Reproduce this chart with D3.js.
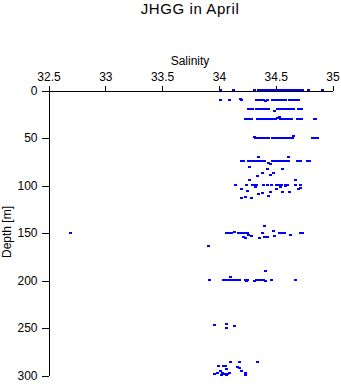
<!DOCTYPE html>
<html>
<head>
<meta charset="utf-8">
<script src="https://cdn.jsdelivr.net/npm/d3@7"></script>
<style>
  html, body { margin: 0; padding: 0; background: #fff; }
  svg { display: block; font-family: "Liberation Sans", Arial, sans-serif; }
</style>
</head>
<body>
<svg id="chart" width="341" height="384"></svg>
<script>
// Salinity / depth observations, [salinity, depth in m]
const surface = [
  [34.01,0],[34.13,0],[34.31,0],[34.35,0],[34.37,0],[34.39,0],[34.41,0],[34.43,0],[34.45,0],[34.48,0],
  [34.51,0],[34.53,0],[34.55,0],[34.57,0],[34.59,0],[34.61,0],[34.63,0],[34.65,0],[34.67,0],[34.70,0],
  [34.72,0],[34.74,0],[34.79,0],[34.91,0]
];
const upper = [
  [34.01,10],[34.09,10],[34.19,9],[34.20,11],[34.33,10],[34.35,10],[34.37,10],[34.39,10],[34.41,11.5],[34.43,10],
  [34.47,10],[34.49,10],[34.51,10],[34.53,10],[34.55,10],[34.57,10],[34.59,10],[34.62,10],[34.64,10],[34.66,10],[34.68,10],[34.70,10],
  [34.26,20],[34.28,20],[34.30,20],[34.33,20],[34.35,20],[34.37,20],[34.39,20],[34.41,20],[34.44,20],[34.49,22],
  [34.52,20],[34.54,20],[34.56,20],[34.58,20],[34.60,20],[34.62,20],[34.64,20],[34.66,20],[34.70,20],[34.73,20],
  [34.23,30],[34.25,31],[34.26,30],[34.29,30],[34.34,30],[34.36,30],[34.38,30],[34.40,30],[34.42,30],[34.44,30],
  [34.46,30],[34.48,30],[34.50,30],[34.52,29],[34.53,28.5],[34.54,30],[34.56,30],[34.58,30],[34.60,30],[34.62,30],
  [34.64,30],[34.69,30],[34.71,30],[34.73,30],[34.84,30],[34.85,31],
  [34.31,49],[34.32,50],[34.34,50],[34.36,50],[34.38,50],[34.40,50],[34.42,50],[34.44,50],[34.47,50],[34.49,50],
  [34.51,50],[34.53,50],[34.55,50],[34.57,50],[34.59,50],[34.61,50],[34.63,50],[34.65,50],[34.66,48],
  [34.82,50],[34.85,50],[34.87,50]
];
const middle = [
  [34.20,75],[34.22,75],[34.26,75],[34.28,75],[34.30,75],[34.32,75],[34.34,75],[34.36,75],[34.38,75],[34.40,75],
  [34.35,71],[34.44,77],[34.45,78],[34.47,75],[34.49,75],[34.51,75],[34.53,75],[34.55,75],[34.57,75],[34.59,75],
  [34.61,71],[34.61,75],[34.69,75],[34.72,75],[34.78,75],[34.80,75],
  [34.27,81],[34.45,78],[34.56,83],[34.38,87],[34.43,83],[34.48,87],[34.45,89],[34.34,91],[34.67,95],[34.27,95],
  [34.15,100],[34.24,100],[34.30,100],[34.32,100],[34.33,100],[34.39,100],[34.43,100],[34.46,100],[34.51,100],
  [34.53,100],[34.55,100],[34.59,100],[34.60,100],[34.67,100],[34.72,100],
  [34.32,102.5],[34.20,104.5],[34.25,106],[34.51,104.5],[34.54,101.7],[34.59,100.7],[34.70,104.5],[34.72,103.5],
  [34.45,107],[34.56,107.7],[34.62,107.7],[34.38,108],[34.35,109.5],[34.23,113],[34.20,113.4],[34.29,113.7],[34.44,111.6]
];
const deep = [
  [32.69,151],[34.07,150],[34.09,150],[34.11,150],[34.14,149],[34.17,150],[34.19,150],[34.21,150],[34.23,150],
  [34.25,150],[34.26,153],[34.29,154],[34.23,156],[34.22,155],[34.36,156],[34.38,150],[34.40,155],[34.42,155],
  [34.43,155],[34.48,148],[34.49,154],[34.40,143],[34.53,150],[34.55,150],[34.58,150],[34.63,153],[34.72,151],
  [34.74,151],[33.91,164],
  [33.92,200],[34.04,200],[34.06,200],[34.08,200],[34.10,197],[34.10,200],[34.12,200],[34.14,200],[34.16,200],
  [34.18,200],[34.23,200],[34.25,200],[34.24,201],[34.31,201],[34.33,200],[34.35,200],[34.37,200],[34.39,200],
  [34.41,201],[34.41,190],[34.46,200],[34.67,200],
  [33.96,247],[34.07,246],[34.07,250],[34.14,248]
];
const bottom = [
  [34.10,286],[34.18,286],[34.34,286],[34.00,290],[34.04,291],[34.06,290],[34.16,292],[34.18,293],[34.01,296],
  [34.03,297.5],[34.07,294],[34.09,298],[34.05,299],[34.07,300],[33.96,299],[34.20,296],[34.23,297.5],[34.23,299.6],
  [34.02,300],[33.99,297.5],[34.08,299]
];

const salinityTicks = [32.5, 33, 33.5, 34, 34.5, 35];
const depthTicks = [0, 50, 100, 150, 200, 250, 300];
const titleText = "JHGG in April";
const xLabel = "Salinity";
const yLabel = "Depth [m]";

const svg = d3.select("#chart");
const x = d3.scaleLinear().domain([32.5, 35]).range([48, 332]);
const y = d3.scaleLinear().domain([0, 300]).range([90, 375]);

// title and axis labels
svg.append("text").attr("x", 190).attr("y", 14).attr("text-anchor", "middle")
  .attr("font-size", 15).attr("letter-spacing", 0.6).text(titleText);
svg.append("text").attr("x", 190).attr("y", 65).attr("text-anchor", "middle")
  .attr("font-size", 12).text(xLabel);
svg.append("text").attr("transform", "translate(11,232) rotate(-90)").attr("text-anchor", "middle")
  .attr("font-size", 12).text(yLabel);

// salinity axis along the top
const xAxis = svg.append("g").attr("transform", "translate(0.5,90.5)")
  .call(d3.axisTop(x).tickValues(salinityTicks).tickFormat(d3.format("")).tickSize(5).tickSizeOuter(0).tickPadding(5));
// depth axis on the left
const yAxis = svg.append("g").attr("transform", "translate(48.5,0.5)")
  .call(d3.axisLeft(y).tickValues(depthTicks).tickSize(7).tickSizeOuter(0).tickPadding(4));

[xAxis, yAxis].forEach(g => {
  g.attr("font-family", null).attr("font-size", 12);
  g.selectAll("path, line").attr("stroke", "#000").attr("shape-rendering", "crispEdges");
  g.selectAll("text").attr("fill", "#000");
});

// observations
const points = [].concat(surface, upper, middle, deep, bottom);
svg.append("g").selectAll("rect").data(points).join("rect")
  .attr("x", d => Math.round(x(d[0])) - 1)
  .attr("y", d => Math.round(y(d[1])) - 1)
  .attr("width", 3).attr("height", 2)
  .attr("fill", "#0000ff")
  .attr("shape-rendering", "crispEdges");
</script>
</body>
</html>
